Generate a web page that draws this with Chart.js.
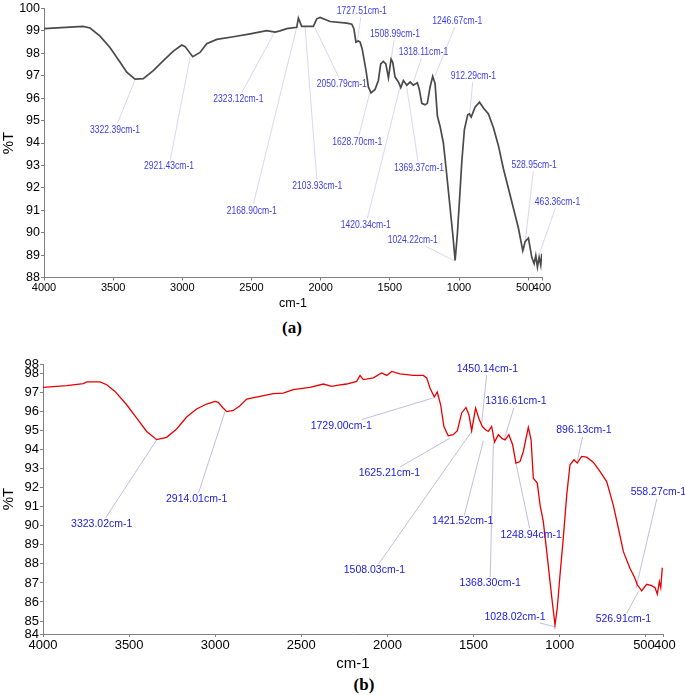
<!DOCTYPE html>
<html>
<head>
<meta charset="utf-8">
<script src="https://cdn.jsdelivr.net/npm/chart.js@4.4.0/dist/chart.umd.min.js"></script>
<style>
  body { margin: 0; width: 685px; height: 695px; background: #fff; position: relative; overflow: hidden; }
  canvas { position: absolute; left: 0; }
  #chartA { top: 0; }
  #chartB { top: 340px; }
  .caption { position: absolute; font: bold 17px 'Liberation Serif', serif; transform: translate(-50%, -50%); }
</style>
</head>
<body>
<canvas id="chartA" width="685" height="312"></canvas>
<canvas id="chartB" width="685" height="333"></canvas>
<div class="caption" style="left:292px; top:328px">(a)</div>
<div class="caption" style="left:364px; top:685px">(b)</div>
<script>
// ---- Spectrum (a) ----
const wavenumbersA = [4000, 3718, 3667, 3595, 3523, 3450, 3402, 3342, 3282, 3210, 3137, 3065, 3004, 2980,
  2925, 2872, 2824, 2751, 2631, 2510, 2390, 2330, 2294, 2245, 2173, 2161, 2137, 2113, 2053, 2028, 2004,
  1932, 1811, 1775, 1760, 1745, 1728, 1715, 1700, 1672, 1655, 1636, 1607, 1583, 1566, 1547, 1529, 1510,
  1491, 1479, 1462, 1438, 1421, 1402, 1377, 1353, 1330, 1301, 1287, 1269, 1245, 1229, 1209, 1190, 1173,
  1156, 1137, 1113, 1093, 1069, 1045, 1028, 1012, 997, 980, 961, 937, 925, 912, 884, 852, 823, 787, 751,
  715, 679, 643, 607, 571, 539, 522, 498, 474, 457, 445, 433, 421, 409, 402];
const transmittanceA = [99.1, 99.2, 99.13, 98.77, 98.26, 97.6, 97.16, 96.85, 96.87, 97.23, 97.67, 98.1, 98.37, 98.3,
  97.85, 98.04, 98.43, 98.62, 98.74, 98.87, 99.01, 98.95, 99.0, 99.1, 99.16, 99.57, 99.2, 99.2, 99.2, 99.54, 99.6,
  99.42, 99.35, 99.3, 99.1, 98.5, 98.55, 98.5, 98.2, 97.23, 96.5, 96.24, 96.39, 96.79, 97.53, 97.64, 97.53, 96.91,
  97.74, 97.6, 96.94, 96.72, 96.47, 96.79, 96.58, 96.72, 96.58, 96.69, 96.4, 95.77, 95.7, 95.77, 96.5, 96.97, 96.65,
  95.19, 94.75, 94.0, 92.85, 91.39, 89.93, 88.76, 89.93, 91.39, 93.14, 94.6, 95.26, 95.3, 95.16, 95.6, 95.82, 95.56, 95.3, 94.68,
  93.88, 92.85, 91.98, 91.1, 90.22, 89.2, 89.6, 89.76, 88.9, 88.62, 88.98, 88.47, 88.9, 88.55, 89.06];
const xTicksA = [4000, 3500, 3000, 2500, 2000, 1500, 1000, 500, 400];
const xTickLabelsA = ['4000', '3500', '3000', '2500', '2000', '1500', '1000', '500  ', '400'];
const peakTextA = ['3322.39cm-1', '2921.43cm-1', '2323.12cm-1', '2168.90cm-1', '2103.93cm-1', '2050.79cm-1',
  '1727.51cm-1', '1628.70cm-1', '1508.99cm-1', '1420.34cm-1', '1318.11cm-1', '1369.37cm-1', '1246.67cm-1',
  '912.29cm-1', '1024.22cm-1', '528.95cm-1', '463.36cm-1'];
// where each leader line touches the curve [cm-1, %T]
const peakPosA = [[3342, 96.82], [2944, 97.82], [2330, 98.98], [2173, 99.16], [2113, 99.2], [2040, 99.13],
  [1735, 98.55], [1643, 96.29], [1510, 96.97], [1426, 96.5], [1330, 96.72], [1382, 96.65], [1173, 97.01],
  [925, 95.19], [1028, 88.73], [529, 89.2], [419, 89.06]];
// centre of each label [cm-1, %T]
const labelPosA = [[3487, 94.6], [3096, 92.97], [2595, 95.96], [2498, 90.99], [2024, 92.09], [1847, 96.65],
  [1703, 99.89], [1735, 94.05], [1462, 98.87], [1674, 90.34], [1257, 98.04], [1289, 92.9], [1012, 99.45],
  [896, 97.01], [1334, 89.68], [457, 93.03], [288, 91.36]];

// ---- Spectrum (b) ----
const wavenumbersB = [4000, 3862, 3766, 3746, 3669, 3630, 3582, 3514, 3456, 3398, 3340, 3282, 3224, 3166, 3108,
  3050, 3001, 2982, 2957, 2933, 2895, 2856, 2817, 2740, 2663, 2605, 2547, 2450, 2372, 2324, 2285, 2237, 2179,
  2159, 2140, 2082, 2034, 2004, 1975, 1927, 1850, 1792, 1772, 1753, 1728, 1711, 1691, 1672, 1647, 1618, 1594,
  1569, 1544, 1527, 1511, 1488, 1467, 1449, 1430, 1414, 1395, 1378, 1356, 1333, 1317, 1295, 1273, 1254, 1230,
  1211, 1182, 1166, 1153, 1130, 1114, 1095, 1075, 1056, 1043, 1027, 1014, 998, 979, 959, 940, 917, 898, 872,
  843, 805, 766, 727, 689, 659, 630, 592, 563, 549, 534, 524, 495, 466, 446, 433, 421, 413, 404];
const transmittanceB = [97.26, 97.35, 97.46, 97.55, 97.55, 97.4, 97.05, 96.35, 95.65, 94.95, 94.52, 94.64, 95.08, 95.71, 96.13,
  96.39, 96.53, 96.48, 96.21, 95.99, 96.05, 96.3, 96.65, 96.79, 96.93, 96.96, 97.14, 97.26, 97.44, 97.32, 97.38, 97.44, 97.58,
  97.89, 97.67, 97.76, 98.02, 97.89, 98.1, 97.97, 97.89, 97.89, 97.76, 97.23, 96.76, 97.02, 96.35, 95.21, 94.72, 94.78, 94.99,
  95.92, 96.21, 95.83, 94.99, 96.18, 95.57, 95.21, 95.04, 94.95, 95.21, 94.39, 94.78, 94.57, 94.51, 94.78, 94.25, 93.29, 93.37,
  93.9, 95.16, 94.51, 92.5, 92.24, 91.1, 90.22, 88.64, 87.07, 86.02, 84.79, 85.67, 87.42, 89.35, 91.62, 93.2, 93.46, 93.29, 93.64,
  93.6, 93.34, 92.85, 92.32, 91.1, 89.87, 88.64, 87.77, 87.25, 86.9, 86.72, 86.58, 86.93, 86.86, 86.75, 86.41, 87.07, 86.75, 87.8];
const xTicksB = [4000, 3500, 3000, 2500, 2000, 1500, 1000, 500, 400];
const xTickLabelsB = ['4000', '3500', '3000', '2500', '2000', '1500', '1000', '500 ', ' 400'];
const yTicksB = [84.32, 85, 86, 87, 88, 89, 90, 91, 92, 93, 94, 95, 96, 97, 98, 98.49];
const yTickLabelsB = ['84', '85', '86', '87', '88', '89', '90', '91', '92', '93', '94', '95', '96', '97', '98', '98'];
const peakTextB = ['3323.02cm-1', '2914.01cm-1', '1729.00cm-1', '1450.14cm-1', '1316.61cm-1', '896.13cm-1',
  '558.27cm-1', '1625.21cm-1', '1421.52cm-1', '1248.94cm-1', '1508.03cm-1', '1368.30cm-1', '1028.02cm-1', '526.91cm-1'];
const peakPosB = [[3340, 94.51], [2943, 96.0], [1734, 96.71], [1453, 95.39], [1323, 94.51], [898, 93.37],
  [557, 86.72], [1637, 94.6], [1443, 94.46], [1254, 93.29], [1511, 94.95], [1385, 94.39], [1027, 84.7], [543, 86.54]];
const labelPosB = [[3659, 90.1], [3108, 91.41], [2268, 95.25], [1420, 98.23], [1254, 96.53], [859, 95.0],
  [427, 91.75], [1989, 92.76], [1563, 90.22], [1166, 89.52], [2076, 87.68], [1404, 86.98], [1259, 85.23], [630, 85.09]];

Chart.defaults.font.family = "'Liberation Sans', Arial, sans-serif";
Chart.defaults.color = '#000';

// labels with thin leader lines to the peaks
const peakLabels = {
  id: 'peakLabels',
  boxes(chart, o) {
    const { ctx, scales: { x, y } } = chart;
    ctx.save();
    ctx.font = o.font;
    const out = o.texts.map((t, i) => {
      const w = ctx.measureText(t).width * o.squeeze;
      return {
        text: t, w, h: o.size * 0.8,
        cx: x.getPixelForValue(o.labels[i][0]), cy: y.getPixelForValue(o.labels[i][1]),
        px: x.getPixelForValue(o.peaks[i][0]), py: y.getPixelForValue(o.peaks[i][1]),
      };
    });
    ctx.restore();
    return out;
  },
  beforeDatasetsDraw(chart, args, o) {
    const ctx = chart.ctx;
    ctx.save();
    ctx.strokeStyle = o.lineColor;
    ctx.lineWidth = 0.8;
    this.boxes(chart, o).forEach(b => {
      const dx = b.px - b.cx, dy = b.py - b.cy;
      const tx = dx ? (b.w / 2 + 1) / Math.abs(dx) : Infinity;
      const ty = dy ? (b.h / 2 + 2) / Math.abs(dy) : Infinity;
      const t = Math.min(tx, ty);
      if (t >= 1) return;
      ctx.beginPath();
      ctx.moveTo(b.cx + dx * t, b.cy + dy * t);
      ctx.lineTo(b.px, b.py);
      ctx.stroke();
    });
    ctx.restore();
  },
  afterDatasetsDraw(chart, args, o) {
    const ctx = chart.ctx;
    this.boxes(chart, o).forEach(b => {
      ctx.save();
      ctx.font = o.font;
      ctx.fillStyle = o.color;
      ctx.textAlign = 'center';
      ctx.textBaseline = 'middle';
      ctx.translate(b.cx, b.cy);
      ctx.scale(o.squeeze, 1);
      ctx.fillText(b.text, 0, 0);
      ctx.restore();
    });
  },
};

function drawSpectrum(id, s) {
  const ctx = document.getElementById(id).getContext('2d');
  return new Chart(ctx, {
    type: 'line',
    data: {
      datasets: [{
        data: s.wn.map((w, i) => ({ x: w, y: s.t[i] })),
        borderColor: s.lineColor,
        borderWidth: s.lineWidth,
        pointRadius: 0,
        tension: 0,
        fill: false,
      }],
    },
    options: {
      responsive: false,
      animation: false,
      layout: { padding: s.padding },
      plugins: {
        legend: { display: false },
        tooltip: { enabled: false },
        peakLabels: s.labels,
      },
      scales: {
        x: {
          type: 'linear', reverse: true, min: 400, max: 4000,
          afterBuildTicks: sc => { sc.ticks = s.xTicks.map(v => ({ value: v })); },
          afterFit: sc => { sc.height = s.xHeight; },
          grid: { drawOnChartArea: false, tickLength: 3, color: s.axisColor },
          border: { color: s.axisColor },
          ticks: { autoSkip: false, maxRotation: 0, padding: s.xTickPad, font: s.xTickFont, callback: (v, i) => s.xLabels[i] },
          title: { display: true, text: 'cm-1', font: s.xTitleFont, padding: 0 },
        },
        y: {
          min: s.yMin, max: s.yMax,
          afterBuildTicks: sc => { sc.ticks = s.yTicks.map(v => ({ value: v })); },
          afterFit: sc => { sc.width = s.yWidth; },
          grid: { drawOnChartArea: false, tickLength: 3, color: s.axisColor },
          border: { color: s.axisColor },
          ticks: { autoSkip: false, padding: 1, font: s.yTickFont, callback: (v, i) => s.yLabels[i] },
          title: { display: true, text: '%T', font: { size: 15 }, padding: 0 },
        },
      },
    },
    plugins: [peakLabels],
  });
}

const yTicksA = [88, 89, 90, 91, 92, 93, 94, 95, 96, 97, 98, 99, 100];

drawSpectrum('chartA', {
  wn: wavenumbersA, t: transmittanceA,
  lineColor: '#4a4a4a', lineWidth: 1.7, axisColor: '#808080',
  padding: { left: 0, top: 3.5, right: 143, bottom: 0.5 },
  xTicks: xTicksA, xLabels: xTickLabelsA, xHeight: 34, xTickPad: 1,
  xTickFont: { size: 11 },
  xTitleFont: { size: 12.5 },
  yMin: 88, yMax: 100, yTicks: yTicksA, yLabels: yTicksA.map(String), yWidth: 44,
  yTickFont: { size: 12.5 },
  labels: {
    texts: peakTextA, peaks: peakPosA, labels: labelPosA,
    font: "11px 'Liberation Sans'", size: 11, squeeze: 0.78,
    color: 'rgb(60, 60, 235)', lineColor: 'rgb(205, 205, 242)',
  },
});

drawSpectrum('chartB', {
  wn: wavenumbersB, t: transmittanceB,
  lineColor: 'rgb(232, 0, 0)', lineWidth: 1.3, axisColor: '#808080',
  padding: { left: 0, top: 24, right: 22, bottom: 0 },
  xTicks: xTicksB, xLabels: xTickLabelsB, xHeight: 39, xTickPad: 1,
  xTickFont: { size: 13 },
  xTitleFont: { size: 15 },
  yMin: 84.32, yMax: 98.49, yTicks: yTicksB, yLabels: yTickLabelsB, yWidth: 43,
  yTickFont: { size: 13 },
  labels: {
    texts: peakTextB, peaks: peakPosB, labels: labelPosB,
    font: "10.5px 'Liberation Sans'", size: 10.5, squeeze: 1,
    color: 'rgb(25, 25, 215)', lineColor: 'rgb(175, 175, 215)',
  },
});
</script>
</body>
</html>
